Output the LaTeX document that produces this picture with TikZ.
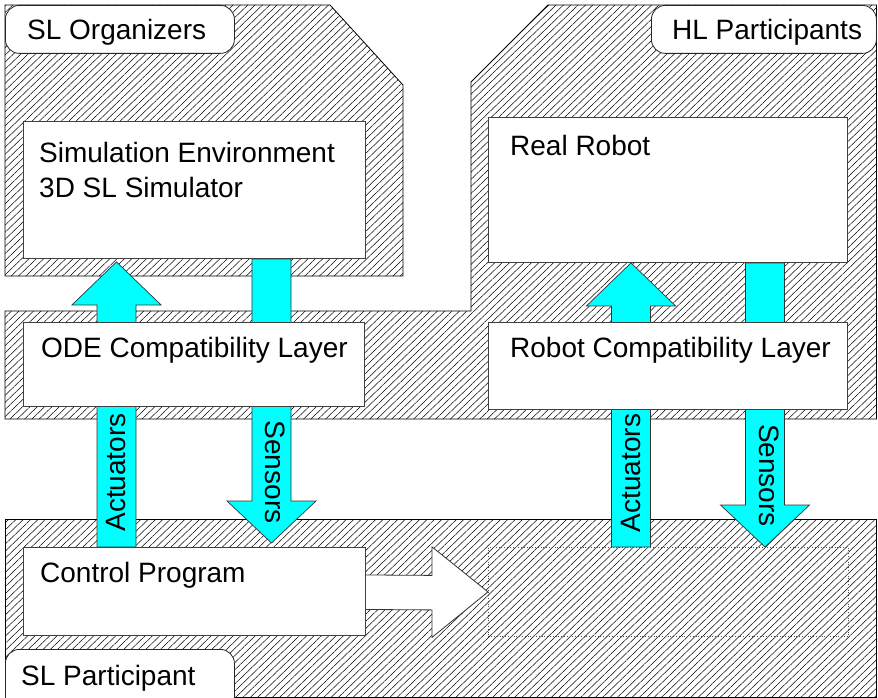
\documentclass[tikz,border=0pt]{standalone}
\usepackage{fontspec}
\setmainfont{Liberation Sans}
\usetikzlibrary{calc,patterns.meta,positioning}
\definecolor{flowcyan}{RGB}{0,255,255}

\pgfdeclarelayer{regions}
\pgfdeclarelayer{flows}
\pgfsetlayers{regions,flows,main}

\tikzset{
  region/.style={draw=black, line width=0.8pt, fill=white,
    postaction={pattern={Lines[angle=44, distance=5.1pt, line width=0.5pt]}, pattern color=black}},
  tag/.style={draw=black!85, fill=white, rounded corners=14pt, line width=0.8pt, anchor=north west, inner sep=0pt},
  box/.style={draw=black!75, fill=white, line width=0.9pt, anchor=north west, inner sep=0pt},
  target/.style={draw=black!70, dotted, line width=0.8pt, anchor=north west, inner sep=0pt},
  txt/.style={font=\fontsize{28}{34}\selectfont, inner sep=0pt, anchor=base west},
  cyanflow/.style={fill=flowcyan, draw=black!80, line width=0.7pt, line join=miter},
  whiteflow/.style={fill=white, draw=black!80, line width=0.8pt, line join=miter}
}

% vertical block arrow: #1 tail, #2 tip, #3 signed head length
\newcommand{\blockarrow}[3]{%
  \draw[cyanflow] ($(#1)+(-19.5,0)$) -- ($(#2)+(-19.5,#3)$) -- ($(#2)+(-44.5,#3)$) -- (#2)
    -- ($(#2)+(44.5,#3)$) -- ($(#2)+(19.5,#3)$) -- ($(#1)+(19.5,0)$) -- cycle;}

\begin{document}
\begin{tikzpicture}[x=1pt, y=-1pt]
\useasboundingbox (0,0) rectangle (878,698);

% hatched areas
\begin{pgfonlayer}{regions}
\draw[region] (5,5) -- (330,5) -- (403,85) -- (403,276) -- (5,276) -- cycle;
\draw[region] (5,311) -- (471,311) -- (471,82) -- (548,5) -- (876.5,5) -- (876.5,419) -- (5,419) -- cycle;
\draw[region] (5,519) -- (876.5,519) -- (876.5,697.5) -- (5,697.5) -- cycle;
\end{pgfonlayer}

% group tags
\node[tag, minimum width=229, minimum height=48] (orgtag) at (5,5) {};
\node[txt] (orgtxt) at ($(orgtag.north west)+(22,35)$) {SL Organizers};
\node[tag, minimum width=225, minimum height=48] (hltag) at (651,5) {};
\node[txt] (hltxt) at ($(hltag.north west)+(21,35)$) {HL Participants};
\node[tag, minimum width=229, minimum height=64] (parttag) at (5,649) {};
\node[txt] (parttxt) at ($(parttag.north west)+(16,36)$) {SL Participant};

% components
\node[box, minimum width=342, minimum height=137] (sim) at (23,121) {};
\node[txt] (simt1) at ($(sim.north west)+(16,42)$) {Simulation Environment};
\node[txt] (simt2) at ($(sim.north west)+(16,76)$) {3D SL Simulator};

\node[box, minimum width=359, minimum height=145] (robot) at (488,117) {};
\node[txt] (robott) at ($(robot.north west)+(22,39)$) {Real Robot};

\node[box, minimum width=341, minimum height=84] (ode) at (23,322) {};
\node[txt] (odet) at ($(ode.north west)+(18,35)$) {ODE Compatibility Layer};

\node[box, minimum width=359, minimum height=87] (rcl) at (488,322) {};
\node[txt] (rclt) at ($(rcl.north west)+(22,35)$) {Robot Compatibility Layer};

\node[box, minimum width=342, minimum height=88] (ctrl) at (23,547) {};
\node[txt] (ctrlt) at ($(ctrl.north west)+(17,35)$) {Control Program};

\node[target, minimum width=360, minimum height=89] (dest) at (488,547) {};

% flows
\begin{pgfonlayer}{flows}
\blockarrow{$(ctrl.north west)+(93.5,0)$}{$(sim.south west)+(93.5,3)$}{43}
\blockarrow{$(sim.south west)+(248.5,0)$}{$(ctrl.north west)+(248.5,-4)$}{-42}
\blockarrow{$(dest.north west)+(143,0)$}{$(robot.south west)+(143,0)$}{43}
\blockarrow{$(robot.south west)+(277,0)$}{$(dest.north west)+(277,0)$}{-42}
\draw[whiteflow] ($(ctrl.east)+(-2,-16.5)$) -- ($(dest.west)+(-56,-16.5)$) -- ($(dest.west)+(-56,-45)$)
  -- (dest.west) -- ($(dest.west)+(-56,45.5)$) -- ($(dest.west)+(-56,18)$) -- ($(ctrl.east)+(-2,18)$) -- cycle;
\end{pgfonlayer}

% flow labels
\node[txt, anchor=center, rotate=90] (actl) at (116,472.5) {Actuators};
\node[txt, anchor=center, rotate=-90] (senl) at (275,472) {Sensors};
\node[txt, anchor=center, rotate=90] (actr) at (630.5,473) {Actuators};
\node[txt, anchor=center, rotate=-90] (senr) at (769,475.5) {Sensors};
\end{tikzpicture}
\end{document}
